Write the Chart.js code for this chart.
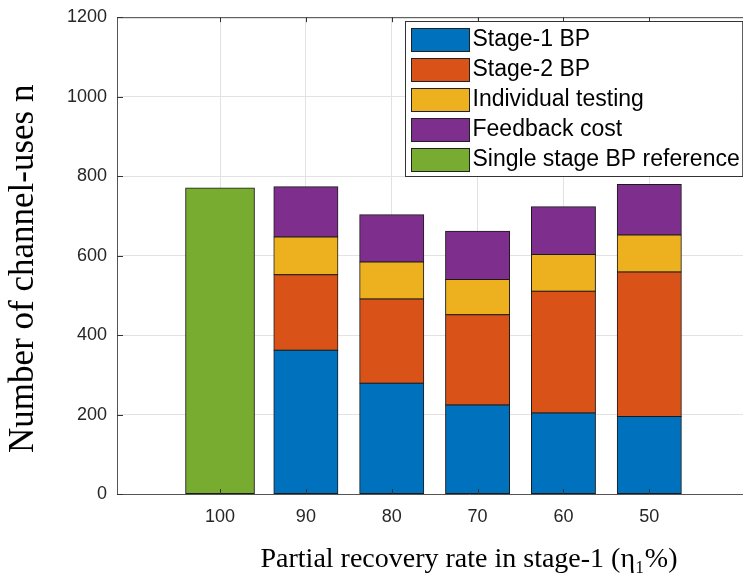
<!DOCTYPE html>
<html><head><meta charset="utf-8">
<script src="https://cdn.jsdelivr.net/npm/chart.js@4/dist/chart.umd.min.js"></script>
<style>html,body{margin:0;padding:0;background:#fff;overflow:hidden}#wrap{width:743px;height:585px;position:relative;overflow:hidden}canvas{display:block}</style>
</head><body><div id="wrap"><canvas id="c" width="821" height="585"></canvas></div>
<script>
// ---- data ----
const categories = ['100', '90', '80', '70', '60', '50'];
const stage1BP = [null, 362, 279, 224, 204, 195];
const stage2BP = [null, 190, 212, 227, 306, 364];
const individualTesting = [null, 95, 93, 89, 93, 93];
const feedbackCost = [null, 126, 119, 121, 120, 127];
const singleStageBP = [770, null, null, null, null, null];
const yTicks = [0, 200, 400, 600, 800, 1000, 1200];
const seriesNames = ['Stage-1 BP', 'Stage-2 BP', 'Individual testing', 'Feedback cost', 'Single stage BP reference'];
const seriesColors = ['#0072BD', '#D95319', '#EDB120', '#7E2F8E', '#77AC30'];

const toPoints = arr => arr.map((v, i) => ({x: i + 1, y: v})).filter(p => p.y !== null);
const seriesValues = [stage1BP, stage2BP, individualTesting, feedbackCost, singleStageBP];

const datasets = seriesValues.map((vals, k) => ({
  label: seriesNames[k],
  data: toPoints(vals),
  backgroundColor: seriesColors[k],
  borderColor: '#1a1a1a',
  borderWidth: 1,
  borderSkipped: false,
  inflateAmount: 0.5,
  categoryPercentage: 1,
  barPercentage: k === 4 ? 0.80 : 0.745
}));

const SANS = '"Liberation Sans", Arial, Helvetica, sans-serif';
const SERIF = '"Liberation Serif", "Times New Roman", serif';
const VISIBLE_WIDTH = 743;

const framePlugin = {
  id: 'frame',
  afterDatasetsDraw(chart) {
    const {ctx, chartArea: a, scales} = chart;
    ctx.save();
    ctx.strokeStyle = '#444';
    ctx.lineWidth = 1;
    ctx.beginPath();
    ctx.moveTo(a.left, a.top + 0.5); ctx.lineTo(a.right, a.top + 0.5);
    ctx.stroke();
    ctx.strokeStyle = '#333';
    ctx.beginPath();
    scales.x.ticks.forEach(t => {
      const px = Math.round(scales.x.getPixelForValue(t.value)) + 0.5;
      ctx.moveTo(px, a.bottom); ctx.lineTo(px, a.bottom - 5);
      ctx.moveTo(px, a.top); ctx.lineTo(px, a.top + 5);
    });
    scales.y.ticks.forEach(t => {
      const py = Math.round(scales.y.getPixelForValue(t.value)) + 0.5;
      ctx.moveTo(a.left, py); ctx.lineTo(a.left + 6, py);
    });
    ctx.stroke();
    ctx.restore();
  }
};

const legendPlugin = {
  id: 'matlabLegend',
  afterDraw(chart) {
    const {ctx, chartArea: a} = chart;
    const names = chart.data.datasets.map(d => d.label);
    const colors = chart.data.datasets.map(d => d.backgroundColor);
    ctx.save();
    ctx.font = '23px ' + SANS;
    const maxW = Math.max(...names.map(n => ctx.measureText(n).width));
    const sw = 58, sh = 23, rowH = 30, padL = 5, gap = 3, padR = 4;
    const boxW = padL + sw + gap + maxW + padR;
    const boxH = 35 + rowH * (names.length - 1);
    const right = VISIBLE_WIDTH - 1;
    const left = Math.round(right - boxW) + 0.5;
    const top = Math.round(a.top + 4) + 0.5;
    ctx.fillStyle = '#fff';
    ctx.fillRect(left, top, boxW, boxH);
    ctx.strokeStyle = '#333';
    ctx.lineWidth = 1;
    ctx.strokeRect(left, top, boxW, boxH);
    names.forEach((n, i) => {
      const cy = top + 17.5 + i * rowH;
      const sx = Math.round(left + padL) + 0.5;
      const sy = Math.round(cy - sh / 2) + 0.5;
      ctx.fillStyle = colors[i];
      ctx.fillRect(sx, sy, sw, sh);
      ctx.strokeStyle = '#222';
      ctx.strokeRect(sx, sy, sw, sh);
      ctx.fillStyle = '#000';
      ctx.textBaseline = 'middle';
      ctx.textAlign = 'left';
      ctx.fillText(n, sx + sw + gap, cy + 1);
    });
    ctx.restore();
  }
};

new Chart(document.getElementById('c'), {
  type: 'bar',
  data: {datasets},
  plugins: [framePlugin, legendPlugin],
  options: {
    responsive: false,
    animation: false,
    devicePixelRatio: 1,
    layout: {padding: {left: 0, top: 8, right: 0, bottom: 0}},
    plugins: {legend: {display: false}, tooltip: {enabled: false}},
    scales: {
      x: {
        type: 'linear',
        stacked: true,
        offset: false,
        min: -0.2,
        max: 8,
        afterBuildTicks: s => { s.ticks = categories.map((c, i) => ({value: i + 1})); },
        afterFit: s => { s.height = 91; },
        ticks: {
          autoSkip: false, maxRotation: 0, padding: 12,
          color: '#262626',
          font: {family: SANS, size: 18, lineHeight: 1.2},
          callback: v => categories[Math.round(v) - 1]
        },
        grid: {color: '#e2e2e2', drawTicks: false, offset: false},
        border: {display: true, color: '#555'},
        title: {
          display: true,
          text: 'Partial recovery rate in stage-1 (η₁%)',
          color: '#000',
          font: {family: SERIF, size: 28, lineHeight: 1},
          padding: {top: 0, bottom: 11}
        }
      },
      y: {
        type: 'linear',
        stacked: true,
        min: 0,
        max: 1200,
        afterBuildTicks: s => { s.ticks = yTicks.map(v => ({value: v})); },
        afterFit: s => { s.width = 117; },
        ticks: {
          padding: 10,
          color: '#262626',
          font: {family: SANS, size: 18, lineHeight: 0.8},
          callback: v => String(v)
        },
        grid: {color: '#e2e2e2', drawTicks: false},
        border: {display: true, color: '#555'},
        title: {
          display: true,
          text: 'Number of channel-uses n\u00a0\u00a0\u00a0',
          color: '#000',
          font: {family: SERIF, size: 35, lineHeight: 1},
          padding: {top: 6, bottom: 0}
        }
      }
    }
  }
});
</script>
</body></html>
